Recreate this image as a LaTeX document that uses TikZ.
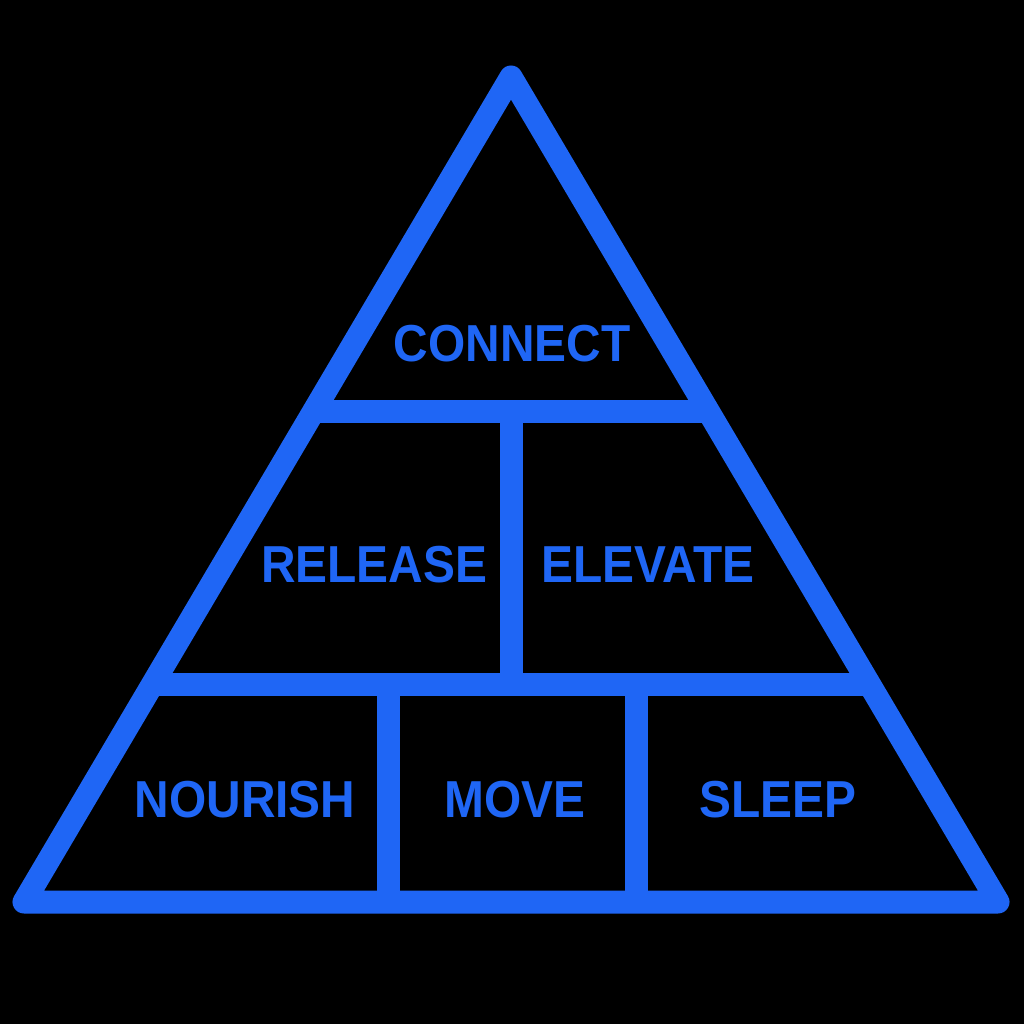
\documentclass[tikz,border=0pt]{standalone}
\usepackage{fontspec}
\setmainfont{Liberation Sans}[FakeStretch=0.92]
\definecolor{pyrblue}{RGB}{31,102,245}
\begin{document}
\begin{tikzpicture}[x=1pt,y=-1pt,
  frame/.style={draw=pyrblue,line width=23pt,line join=round,line cap=round},
  divider/.style={draw=pyrblue,line width=23pt},
  label/.style={text=pyrblue,font=\fontsize{52}{52}\selectfont\bfseries,inner sep=0pt,anchor=center}]
\fill[black] (0,0) rectangle (1024,1024);
\useasboundingbox (0,0) rectangle (1024,1024);
\coordinate (apex) at (511,77);
\coordinate (bl) at (24,902);
\coordinate (br) at (998,902);
\coordinate (l1) at (314,411);
\coordinate (r1) at (708,411);
\coordinate (l2) at (153,684);
\coordinate (r2) at (869,684);
\coordinate (m1t) at (511,411);
\coordinate (m1b) at (511,684);
\coordinate (d1t) at (388,684);
\coordinate (d1b) at (388,902);
\coordinate (d2t) at (636,684);
\coordinate (d2b) at (636,902);
\draw[divider] (l1) -- (r1);
\draw[divider] (l2) -- (r2);
\draw[divider] (m1t) -- (m1b);
\draw[divider] (d1t) -- (d1b);
\draw[divider] (d2t) -- (d2b);
\draw[frame] (apex) -- (br) -- (bl) -- cycle;
\node[label] (connect) at (512,344) {CONNECT};
\node[label] (release) at (374,565) {RELEASE};
\node[label] (elevate) at (648,565) {ELEVATE};
\node[label] (nourish) at (245,800) {NOURISH};
\node[label] (move) at (515,800) {MOVE};
\node[label] (sleep) at (778,800) {SLEEP};
\end{tikzpicture}
\end{document}
